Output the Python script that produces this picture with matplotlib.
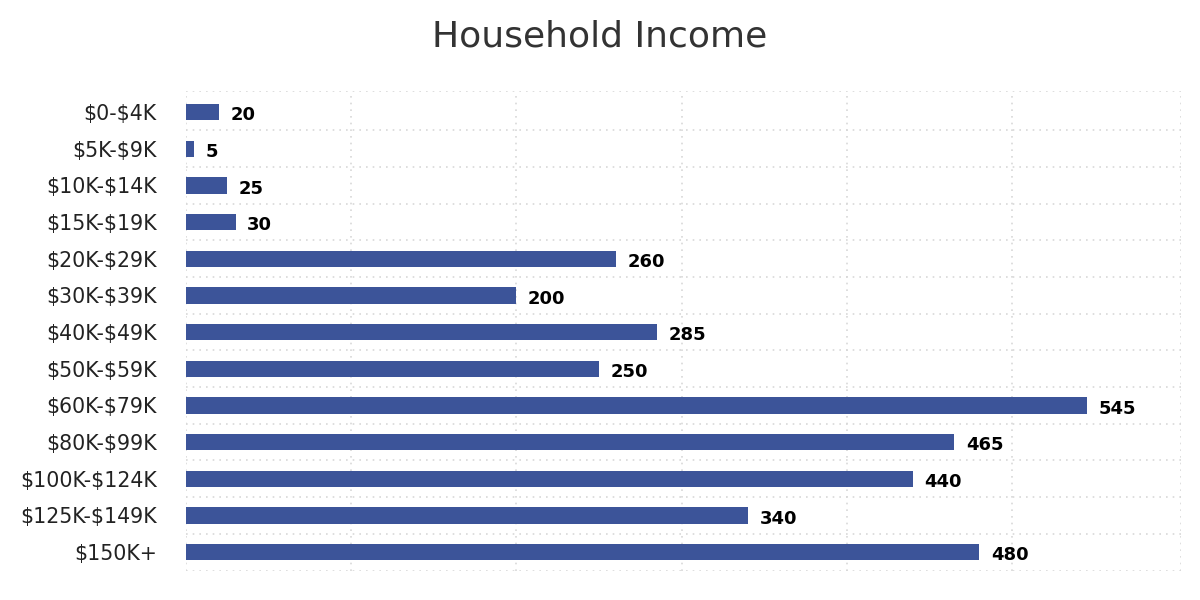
import matplotlib
matplotlib.use('Agg')
import matplotlib.pyplot as plt
import numpy as np

# Income brackets and household counts
categories = ['$0-$4K', '$5K-$9K', '$10K-$14K', '$15K-$19K', '$20K-$29K',
              '$30K-$39K', '$40K-$49K', '$50K-$59K', '$60K-$79K', '$80K-$99K',
              '$100K-$124K', '$125K-$149K', '$150K+']
values = [20, 5, 25, 30, 260, 200, 285, 250, 545, 465, 440, 340, 480]

bar_color = '#3c5499'

fig = plt.figure(figsize=(12, 6), dpi=100)
ax = fig.add_axes([0.155, 0.048, 0.829, 0.8])

y = np.arange(len(categories))
ax.barh(y, values, height=0.44, color=bar_color, zorder=2)

# Value labels, bold, just right of each bar
for i, v in enumerate(values):
    ax.text(v + 7, i + 0.09, str(v), va='center', ha='left',
            fontsize=13, fontweight='bold', color='black')

# escape the dollar signs so mathtext stays off
ax.set_yticks(y)
ax.set_yticklabels([c.replace('$', r'\$') for c in categories], fontsize=14.8, color='#222222')
y_top, y_bot = -0.57, len(categories) - 0.48
ax.set_ylim(y_bot, y_top)
ax.set_yticks(np.r_[y_top, np.arange(0.5, len(categories) - 1, 1), y_bot], minor=True)

ax.set_xlim(0, 602)
ax.set_xticks([0, 100, 200, 300, 400, 500, 602])
ax.tick_params(axis='x', labelbottom=False, length=0)
ax.tick_params(axis='y', which='both', length=0, pad=21)

dots = (0, (1, 3))
ax.grid(axis='x', which='major', linestyle=dots, color='#d8d8d8', linewidth=1.2, zorder=0)
ax.grid(axis='y', which='minor', linestyle=dots, color='#d8d8d8', linewidth=1.2, zorder=0)
ax.grid(axis='y', which='major', visible=False)

for s in ax.spines.values():
    s.set_visible(False)

fig.suptitle('Household Income', fontsize=26, color='#333333', y=0.968)

fig.savefig('out.png', dpi=100)
